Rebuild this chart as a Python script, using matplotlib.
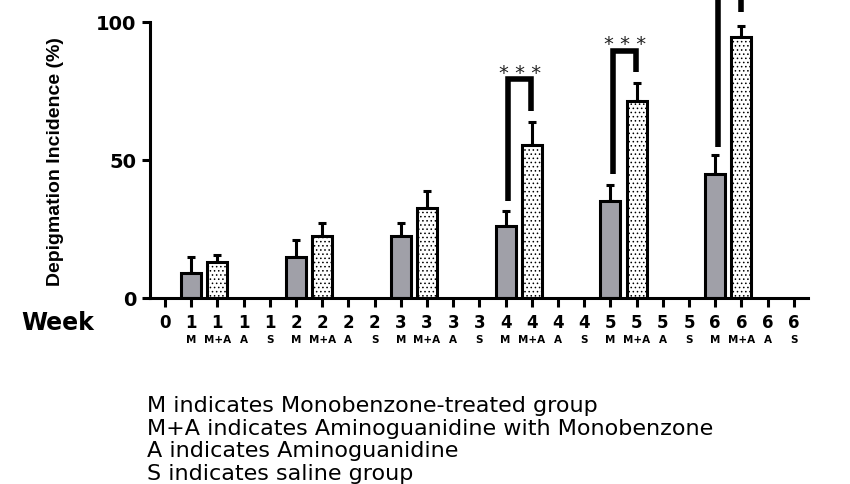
import matplotlib
matplotlib.use('Agg')
import matplotlib.pyplot as plt
import matplotlib.transforms as mtransforms

# x categories: week number + group
week_labels = ['0'] + [str(w) for w in range(1, 7) for _ in range(4)]
group_labels = [''] + ['M', 'M+A', 'A', 'S'] * 6

weeks = [1, 2, 3, 4, 5, 6]
m_mean = [9, 15, 22.3, 26.2, 35, 45]
m_err = [5.8, 6, 4.7, 5.2, 5.8, 6.7]
ma_mean = [13, 22.3, 32.5, 55.4, 71.3, 94.7]
ma_err = [2.4, 4.7, 6.4, 8.5, 6.5, 3.9]

# significance brackets (week, top, left leg bottom, right leg bottom)
# week 6 stars sit above the visible area, so no text there
sig_weeks = [4, 5, 6]
sig_top = [79.3, 89.6, 118]
sig_left_bottom = [35.2, 44.9, 54.8]
sig_right_bottom = [67.9, 82, 103.7]
sig_text = ['* * *', '* * *', '']

legend_lines = [
    'M indicates Monobenzone-treated group',
    'M+A indicates Aminoguanidine with Monobenzone',
    'A indicates Aminoguanidine',
    'S indicates saline group',
]


def pos(week, group):
    for i, (w, g) in enumerate(zip(week_labels, group_labels)):
        if w == str(week) and g == group:
            return i


plt.rcParams['hatch.linewidth'] = 0.6

fig = plt.figure(figsize=(8.5, 4.85), dpi=100)
ax = fig.add_axes([150 / 850, 1 - 299 / 485, (808 - 150) / 850, 299 / 485])

m_x = [pos(w, 'M') for w in weeks]
ma_x = [pos(w, 'M+A') for w in weeks]

ax.bar(m_x, m_mean, width=0.76, color='#a0a0a8', edgecolor='black', linewidth=2.2, zorder=2)
ax.bar(ma_x, ma_mean, width=0.76, color='white', edgecolor='black', linewidth=2.2,
       hatch='....', zorder=2)
ax.errorbar(m_x, m_mean, yerr=[[0] * len(m_err), m_err], fmt='none', ecolor='black',
            elinewidth=2.2, capsize=3, capthick=2.2, zorder=1)
ax.errorbar(ma_x, ma_mean, yerr=[[0] * len(ma_err), ma_err], fmt='none', ecolor='black',
            elinewidth=2.2, capsize=3, capthick=2.2, zorder=1)

for w, top, lb, rb, txt in zip(sig_weeks, sig_top, sig_left_bottom, sig_right_bottom, sig_text):
    xl = pos(w, 'M') + 0.1
    xr = pos(w, 'M+A') - 0.02
    ax.plot([xl, xl, xr, xr], [lb, top, top, rb], color='black', lw=4,
            solid_joinstyle='miter', solid_capstyle='butt', zorder=3)
    if txt:
        ax.text((xl + xr) / 2, top + 0.5, txt, ha='center', va='baseline', fontsize=14,
                color='#222222')

ax.set_xlim(-0.57, 24.54)
ax.set_ylim(0, 108.3)
ax.set_yticks([0, 50, 100])
ax.set_xticks(range(len(week_labels)))
ax.set_xticklabels(week_labels, fontsize=12, fontweight='bold')
ax.tick_params(axis='x', length=6.5, width=2.2, pad=4.5)
ax.tick_params(axis='y', length=6, width=2.2, labelsize=14, pad=4)
for lab in ax.get_yticklabels():
    lab.set_fontweight('bold')

ax.spines['top'].set_visible(False)
ax.spines['right'].set_visible(False)
ax.spines['left'].set_linewidth(2.2)
ax.spines['bottom'].set_linewidth(2.2)
ax.spines['left'].set_bounds(0, 100)

trans = mtransforms.blended_transform_factory(ax.transData, ax.transAxes)
for i, g in enumerate(group_labels):
    if g:
        ax.text(i, -0.1355, g, transform=trans, ha='center', va='center',
                fontsize=7.5, fontweight='bold')

fig.text(58 / 850, 1 - 323 / 485, 'Week', ha='center', va='center',
         fontsize=17, fontweight='bold')
fig.text(55 / 850, 1 - 162 / 485, 'Depigmation Incidence (%)', rotation=90,
         ha='center', va='center', fontsize=14, fontweight='bold',
         family=['Liberation Sans', 'DejaVu Sans'])

for k, line in enumerate(legend_lines):
    fig.text(147 / 850, 1 - (406 + 22.7 * k) / 485, line, ha='left', va='center',
             fontsize=16)

fig.savefig('out.png', dpi=100)
